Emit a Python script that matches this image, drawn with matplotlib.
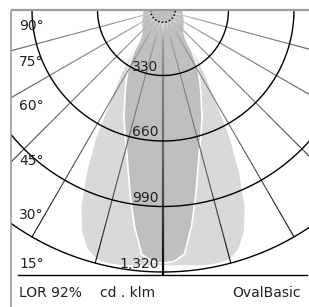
import numpy as np
import matplotlib
matplotlib.use('Agg')
import matplotlib.pyplot as plt
from matplotlib.collections import LineCollection
from matplotlib.patches import Rectangle, Polygon

# ---------------- data ----------------
ring_values = [330, 660, 990, 1320]
ring_labels = ['330', '660', '990', '1,320']
angle_ticks = [15, 30, 45, 60, 75, 90]
angle_labels = ['15°', '30°', '45°', '60°', '75°', '90°']
radial_angles = [-75, -60, -45, -30, -15, 0, 15, 30, 45, 60, 75]

# C0-180 plane (light grey), gamma in degrees, cd/klm
gamma_c0 = [0, 2.5, 5, 7.5, 10, 12.5, 15, 17.5, 20, 22.5, 25, 27.5, 30, 32.5,
            35, 37.5, 40, 45, 50, 60, 75, 90]
intens_c0 = [1285, 1287, 1290, 1298, 1303, 1305, 1298, 1262, 1190, 1075, 905,
             730, 520, 395, 295, 215, 160, 120, 100, 80, 65, 60]
# C90-270 plane (dark grey)
gamma_c90 = [0, 2.5, 5, 7.5, 10, 12.5, 15, 17.5, 20, 22.5, 25, 27.5, 30, 32.5,
             35, 37.5, 40, 45, 50, 60, 75, 90]
intens_c90 = [1275, 1268, 1235, 1100, 950, 815, 715, 640, 575, 505, 450, 400,
              355, 310, 255, 195, 170, 150, 140, 125, 110, 100]

lor_text = 'LOR 92%'
unit_text = 'cd . klm'
name_text = 'OvalBasic'

# ---------------- layout ----------------
W, H = 309, 307
CX, CY = 163, 10            # pole position in pixels
U = 1320 / 262.0            # cd/klm per pixel


def px2x(px):
    return (px - CX) * U


def px2y(py):
    return -(py - CY) * U


def polar_xy(gamma_deg, r):
    g = np.radians(np.asarray(gamma_deg, dtype=float))
    r = np.asarray(r, dtype=float)
    return r * np.sin(g), -r * np.cos(g)


fig = plt.figure(figsize=(W / 100, H / 100), dpi=100)
ax = fig.add_axes([0, 0, 1, 1])
ax.set_xlim(px2x(0), px2x(W))
ax.set_ylim(px2y(H), px2y(0))
ax.axis('off')

clip = Rectangle((px2x(11), px2y(300)), px2x(W) - px2x(11), px2y(10) - px2y(300),
                 transform=ax.transData, facecolor='none', edgecolor='none')
ax.add_patch(clip)


def mirrored(gam, val):
    g = np.concatenate([-np.array(gam[::-1]), np.array(gam[1:])])
    v = np.concatenate([np.array(val[::-1]), np.array(val[1:])])
    return g, v


# light distribution
g0, v0 = mirrored(gamma_c0, intens_c0)
x0, y0 = polar_xy(g0, v0)
p0 = Polygon(np.column_stack([x0, y0]), closed=True, facecolor='#d9d9d9',
             edgecolor='none', zorder=1)
ax.add_patch(p0)
p0.set_clip_path(clip)

# dark distribution
g9, v9 = mirrored(gamma_c90, intens_c90)
x9, y9 = polar_xy(g9, v9)
p9 = Polygon(np.column_stack([x9, y9]), closed=True, facecolor='#bfbfbf',
             edgecolor='white', linewidth=1.2, zorder=2)
ax.add_patch(p9)
p9.set_clip_path(clip)

# radial lines with grey-to-black gradient
r_stops = [60, 160, 330, 660, 990, 1320]
grey_stops = [0.9, 0.62, 0.52, 0.42, 0.25, 0.02]
for a in radial_angles:
    r_end = 1335 if a == 0 else 1320
    rr = np.linspace(62, r_end, 80)
    xs, ys = polar_xy(np.full_like(rr, a), rr)
    pts = np.column_stack([xs, ys]).reshape(-1, 1, 2)
    segs = np.concatenate([pts[:-1], pts[1:]], axis=1)
    rm = 0.5 * (rr[:-1] + rr[1:])
    lv = np.interp(rm, r_stops, grey_stops)
    cols = [(c, c, c, 1.0) for c in lv]
    lc = LineCollection(segs, colors=cols, linewidths=1.6 if a == 0 else 0.8,
                        zorder=3, capstyle='butt')
    ax.add_collection(lc)
    lc.set_clip_path(clip)

# rings
ga = np.linspace(-90, 90, 361)
for v in ring_values:
    xa, ya = polar_xy(ga, np.full_like(ga, v))
    ln, = ax.plot(xa, ya, color='black', lw=1.0, zorder=4)
    ln.set_clip_path(clip)

# dotted pole circle
gc = np.linspace(-90, 90, 100)
xc, yc = polar_xy(gc, np.full_like(gc, 62))
ax.plot(xc, yc, color='black', lw=1.0, ls=(0, (1.2, 1.4)), zorder=5)

# ring value labels
for v, lab in zip(ring_values, ring_labels):
    ax.text(px2x(158.5), -v + 1.5 * U, lab, ha='right', va='bottom',
            fontsize=10, color='#222222', zorder=6)

# angle labels
angle_label_py = [264, 215, 161, 106, 62, 26]
for lab, py in zip(angle_labels, angle_label_py):
    ax.text(px2x(19), px2y(py), lab, ha='left', va='center', fontsize=10,
            color='#222222', zorder=6)

# baseline and footer
ax.plot([px2x(18), px2x(307)], [px2y(275), px2y(275)], color='black', lw=1.0,
        zorder=6)
ax.text(px2x(19), px2y(293), lor_text, ha='left', va='center', fontsize=10,
        color='#222222')
ax.text(px2x(100), px2y(293), unit_text, ha='left', va='center', fontsize=10,
        color='#222222')
ax.text(px2x(301), px2y(293), name_text, ha='right', va='center', fontsize=10,
        color='#222222')

# frame (top and left)
ax.plot([px2x(11), px2x(W)], [px2y(10), px2y(10)], color='#9c9c9c', lw=1.6,
        zorder=7, solid_capstyle='butt')
ax.plot([px2x(11), px2x(11)], [px2y(10), px2y(H)], color='#9c9c9c', lw=1.2,
        zorder=7, solid_capstyle='butt')

fig.savefig('out.png', dpi=100)
